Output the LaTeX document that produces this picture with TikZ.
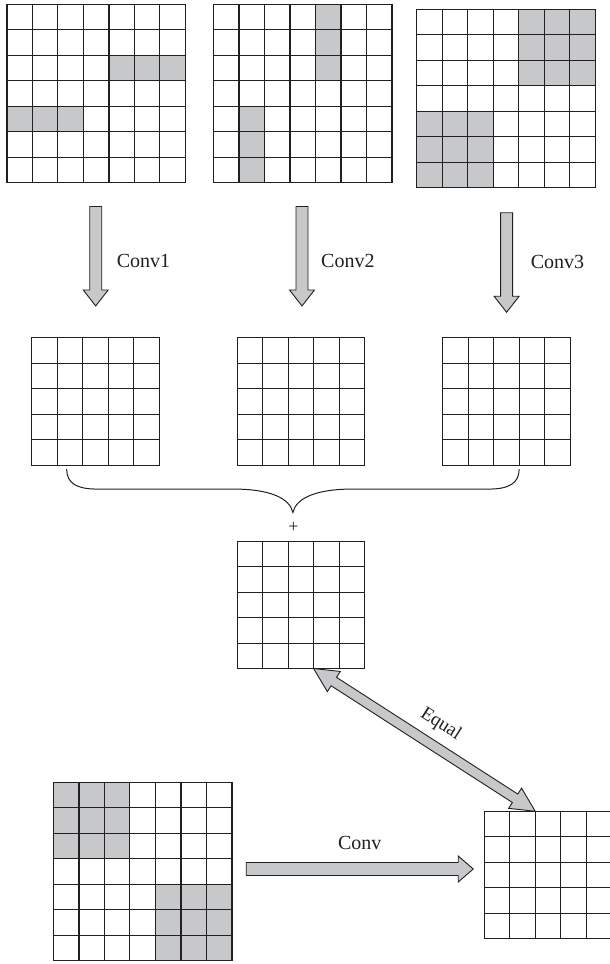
\documentclass[tikz,border=0pt]{standalone}
\usepackage{fontspec}
\newfontfamily\convfont{Liberation Serif}
\usetikzlibrary{calc,positioning}
\definecolor{CellGray}{RGB}{199,200,202}
\definecolor{InkGray}{RGB}{35,31,32}

\newcommand{\cellsz}{25.5}
% n x n lines over a map node
\newcommand{\cellgrid}[2]{%
  \foreach \k in {0,...,#2} {
    \draw[gridline] ($(#1.north west)!\k/#2!(#1.north east)$) -- ($(#1.south west)!\k/#2!(#1.south east)$);
    \draw[gridline] ($(#1.north west)!\k/#2!(#1.south west)$) -- ($(#1.north east)!\k/#2!(#1.south east)$);
  }
}
% node, column, row, columns, rows (from the top left cell)
\newcommand{\markcells}[5]{%
  \fill[CellGray] ($(#1.north west)+(#2*\cellsz,#3*\cellsz)$) rectangle ++(#4*\cellsz,#5*\cellsz);
}
% start, tip, half shaft, half head, head length
\newcommand{\blockarrow}[5]{%
  \coordinate (hb) at ($(#2)!#5!(#1)$);
  \filldraw[blk] ($(#1)!#3!90:(#2)$) -- ($(hb)!#3!-90:(#1)$) -- ($(hb)!#4!-90:(#1)$) -- (#2)
    -- ($(hb)!#4!90:(#1)$) -- ($(hb)!#3!90:(#1)$) -- ($(#1)!#3!-90:(#2)$) -- cycle;
}
\newcommand{\dblarrow}[5]{%
  \coordinate (ha) at ($(#1)!#5!(#2)$);
  \coordinate (hb) at ($(#2)!#5!(#1)$);
  \filldraw[blk] (#1) -- ($(ha)!#4!90:(#2)$) -- ($(ha)!#3!90:(#2)$) -- ($(hb)!#3!-90:(#1)$)
    -- ($(hb)!#4!-90:(#1)$) -- (#2) -- ($(hb)!#4!90:(#1)$) -- ($(hb)!#3!90:(#1)$)
    -- ($(ha)!#3!-90:(#2)$) -- ($(ha)!#4!-90:(#2)$) -- cycle;
}

\begin{document}
\begin{tikzpicture}[x=1pt, y=-1pt]
    \tikzstyle{map7}=[inner sep=0pt, outer sep=0pt, minimum size=178.5pt]
    \tikzstyle{map5}=[inner sep=0pt, outer sep=0pt, minimum size=127.5pt]
    \tikzstyle{gridline}=[draw=InkGray, line width=1.1pt, line cap=rect]
    \tikzstyle{blk}=[fill=CellGray, draw=InkGray, line width=0.9pt]
    \tikzstyle{lbl}=[inner sep=0pt, text=InkGray, font=\convfont\fontsize{20}{24}\selectfont]
    \useasboundingbox (0,0) rectangle (610,964);
    \clip (0,0) rectangle (610,964);
    \fill[white] (0,0) rectangle (610,964);

    % inputs
    \node[map7] (in1) at (96.2,93.5) {};
    \node[map7, right=28pt of in1] (in2) {};
    \node[map7] (in3) at (506,98.5) {};
    \markcells{in1}{4}{2}{3}{1}
    \markcells{in1}{0}{4}{3}{1}
    \markcells{in2}{4}{0}{1}{3}
    \markcells{in2}{1}{4}{1}{3}
    \markcells{in3}{4}{0}{3}{3}
    \markcells{in3}{0}{4}{3}{3}
    \cellgrid{in1}{7}
    \cellgrid{in2}{7}
    \cellgrid{in3}{7}

    % feature maps
    \node[map5] (fm1) at (95.4,401.3) {};
    \node[map5, right=78pt of fm1] (fm2) {};
    \node[map5, right=78pt of fm2] (fm3) {};
    \node[map5, below=76pt of fm2] (sum) {};
    \cellgrid{fm1}{5}
    \cellgrid{fm2}{5}
    \cellgrid{fm3}{5}
    \cellgrid{sum}{5}

    \node[map7] (big) at (142.7,871.4) {};
    \node[map5] (out) at (548,875) {};
    \markcells{big}{0}{0}{3}{3}
    \markcells{big}{4}{4}{3}{3}
    \cellgrid{big}{7}
    \cellgrid{out}{5}

    % conv arrows
    \coordinate (a1s) at ($(in1.south)+(-0.5,23.7)$);
    \coordinate (a1e) at ($(a1s)+(0,99.5)$);
    \coordinate (a2s) at ($(in2.south)+(-0.7,23.7)$);
    \coordinate (a2e) at ($(a2s)+(0,99.5)$);
    \coordinate (a3s) at ($(in3.south)+(0.6,25)$);
    \coordinate (a3e) at ($(a3s)+(0,99.5)$);
    \blockarrow{a1s}{a1e}{6pt}{12.5pt}{16pt}
    \blockarrow{a2s}{a2e}{6pt}{12.5pt}{16pt}
    \blockarrow{a3s}{a3e}{6pt}{12.5pt}{16pt}
    \node[lbl, anchor=west] (c1) at ($(a1s)+(21,55)$) {Conv1};
    \node[lbl, anchor=west] (c2) at ($(a2s)+(19,55)$) {Conv2};
    \node[lbl, anchor=west] (c3) at ($(a3s)+(24,49)$) {Conv3};

    % brace
    \coordinate (bl) at ($(fm1.south west)+(35,4)$);
    \coordinate (br) at ($(fm3.south west)+(76.5,4)$);
    \coordinate (btip) at ($(bl)!0.5!(br)+(0,43.5)$);
    \draw[InkGray, line width=1pt] (bl) .. controls +(0,14) and +(-20,0) .. ($(bl)+(30,20)$)
        -- ($(btip)+(-60,-23.5)$) .. controls +(38,0) and +(-3,-14) .. (btip)
        .. controls +(3,-14) and +(-38,0) .. ($(btip)+(60,-23.5)$)
        -- ($(br)+(-30,20)$) .. controls +(20,0) and +(0,14) .. (br);
    \node[inner sep=0pt, text=InkGray, font=\convfont\fontsize{18}{20}\selectfont] (plus) at ($(btip)+(0.5,14.5)$) {+};

    % equal
    \coordinate (eqs) at ($(sum.south west)+(76.5,0)$);
    \coordinate (eqe) at ($(out.north west)+(51,0)$);
    \dblarrow{eqs}{eqe}{5pt}{12pt}{24pt}
    \path (eqs) -- node[pos=0.52, sloped, above=13pt, inner sep=0pt, text=InkGray, font=\convfont\fontsize{19}{22}\selectfont] (eqlbl) {Equal} (eqe);

    % single conv
    \coordinate (cs) at ($(big.east)+(14.3,-2.4)$);
    \coordinate (ce) at ($(out.west)+(-11,-6)$);
    \blockarrow{cs}{ce}{6.5pt}{13pt}{15pt}
    \node[lbl] (convlbl) at ($(cs)!0.5!(ce)+(0,-26)$) {Conv};
\end{tikzpicture}
\end{document}
